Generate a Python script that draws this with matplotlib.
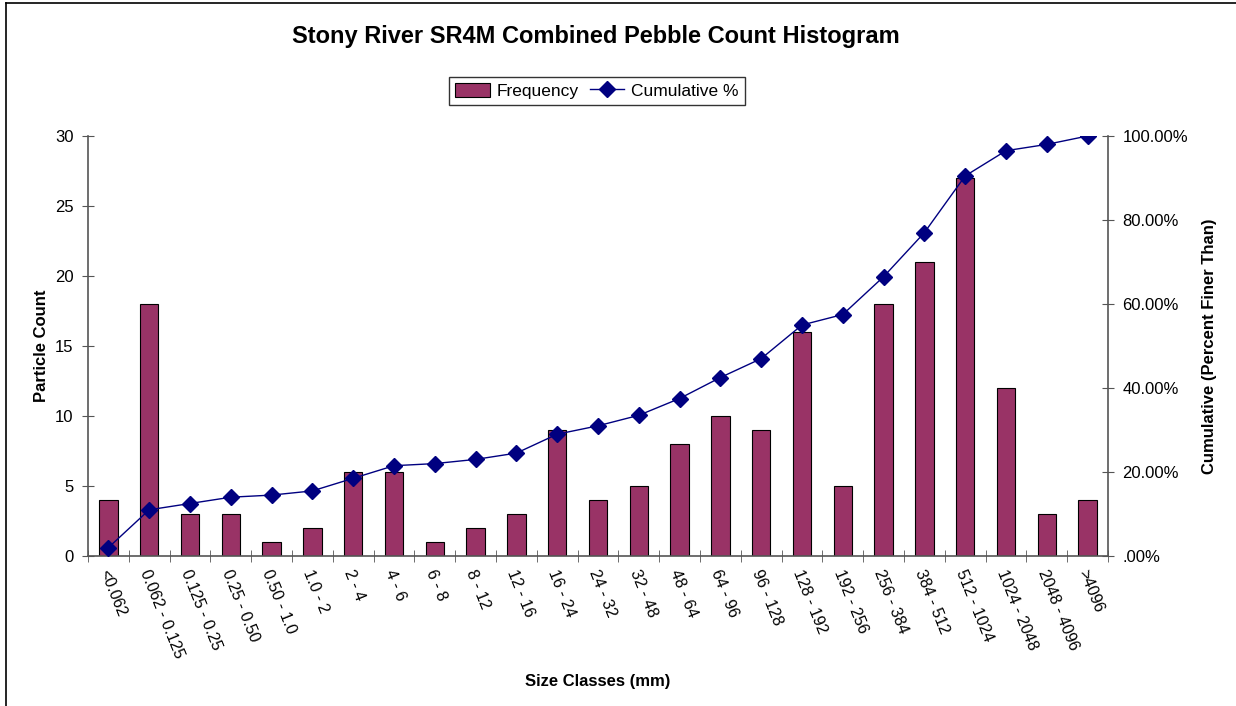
import matplotlib
matplotlib.use("Agg")
import matplotlib.pyplot as plt
import numpy as np
from matplotlib.ticker import FuncFormatter, FixedLocator
from matplotlib.lines import Line2D
from matplotlib.patches import Patch

plt.rcParams['font.family'] = ['Liberation Sans', 'DejaVu Sans']

size_classes = ["<0.062", "0.062 - 0.125", "0.125 - 0.25", "0.25 - 0.50", "0.50 - 1.0",
                "1.0 - 2", "2 - 4", "4 - 6", "6 - 8", "8 - 12", "12 - 16", "16 - 24",
                "24 - 32", "32 - 48", "48 - 64", "64 - 96", "96 - 128", "128 - 192",
                "192 - 256", "256 - 384", "384 - 512", "512 - 1024", "1024 - 2048",
                "2048 - 4096", ">4096"]
frequency = [4, 18, 3, 3, 1, 2, 6, 6, 1, 2, 3, 9, 4, 5, 8, 10, 9, 16, 5, 18, 21, 27, 12, 3, 4]
cumulative_pct = [2.0, 11.0, 12.5, 14.0, 14.5, 15.5, 18.5, 21.5, 22.0, 23.0, 24.5, 29.0,
                  31.0, 33.5, 37.5, 42.5, 47.0, 55.0, 57.5, 66.5, 77.0, 90.5, 96.5, 98.0, 100.0]

W, H = 1236, 706
fig = plt.figure(figsize=(W / 100, H / 100), dpi=100)
fig.patch.set_facecolor("white")

# outer chart frame (left and top edges)
fig.add_artist(Line2D([5.5 / W, 5.5 / W], [0, 1 - 3 / H], transform=fig.transFigure, color="black", lw=1.2))
fig.add_artist(Line2D([5.5 / W, 1], [1 - 3 / H, 1 - 3 / H], transform=fig.transFigure, color="black", lw=1.2))

ax = fig.add_axes([88 / W, 1 - 556 / H, (1108 - 88) / W, (556 - 136) / H])
x = np.arange(len(size_classes))
ax.bar(x, frequency, width=0.45, color="#993366", edgecolor="black", linewidth=0.8, zorder=2)
ax.set_xlim(-0.5, len(size_classes) - 0.5)
ax.set_ylim(0, 30)
ax.set_yticks(np.arange(0, 31, 5))

ax.spines["top"].set_visible(False)
ax.spines["right"].set_visible(False)
for s in ("left", "bottom"):
    ax.spines[s].set_color("#555555")
    ax.spines[s].set_linewidth(1.2)

ax.xaxis.set_major_locator(FixedLocator(x))
ax.set_xticklabels(size_classes, rotation=-68, ha="left", va="center",
                   rotation_mode="anchor", fontsize=11.5)
ax.xaxis.set_minor_locator(FixedLocator(np.arange(-0.5, len(size_classes), 1.0)))
ax.tick_params(axis="x", which="major", length=0, pad=10)
ax.tick_params(axis="x", which="minor", direction="inout", length=8, color="#555555")
ax.tick_params(axis="y", direction="inout", length=9, color="#555555", labelsize=12, pad=6)
for lbl in ax.get_xticklabels():
    lbl.set_transform(lbl.get_transform() + matplotlib.transforms.ScaledTranslation(-5 / 100, 0, fig.dpi_scale_trans))

ax.set_ylabel("Particle Count", fontsize=12, fontweight="bold", labelpad=4)
ax.set_xlabel("Size Classes (mm)", fontsize=12, fontweight="bold", labelpad=10)

ax2 = ax.twinx()
ax2.plot(x, cumulative_pct, color="#000080", lw=1.0, marker="D", markersize=8,
         markerfacecolor="#000080", markeredgecolor="#000080", zorder=3)
ax2.set_ylim(0, 100)
ax2.set_yticks(np.arange(0, 101, 20))
ax2.yaxis.set_major_formatter(FuncFormatter(lambda v, p: ".00%" if v == 0 else f"{v:.2f}%"))
for s in ("top", "left", "bottom"):
    ax2.spines[s].set_visible(False)
ax2.spines["right"].set_color("#555555")
ax2.spines["right"].set_linewidth(1.2)
ax2.tick_params(axis="y", direction="inout", length=9, color="#555555", labelsize=12, pad=6)
ax2.set_ylabel("Cumulative (Percent Finer Than)", fontsize=12, fontweight="bold", labelpad=10)

fig.text(596 / W, 1 - 37 / H, "Stony River SR4M Combined Pebble Count Histogram",
         ha="center", va="center", fontsize=17, fontweight="bold")

handles = [Patch(facecolor="#993366", edgecolor="black", linewidth=0.8),
           Line2D([], [], color="#000080", lw=1.0, marker="D", markersize=8)]
fig.legend(handles, ["Frequency", "Cumulative %"], loc="center",
           bbox_to_anchor=(597 / W, 1 - 91 / H), ncol=2, fontsize=12.5, frameon=True,
           fancybox=False, edgecolor="black", handlelength=2.0, handleheight=0.9,
           columnspacing=0.6, handletextpad=0.4, borderpad=0.35)

fig.savefig("out.png", dpi=100)
